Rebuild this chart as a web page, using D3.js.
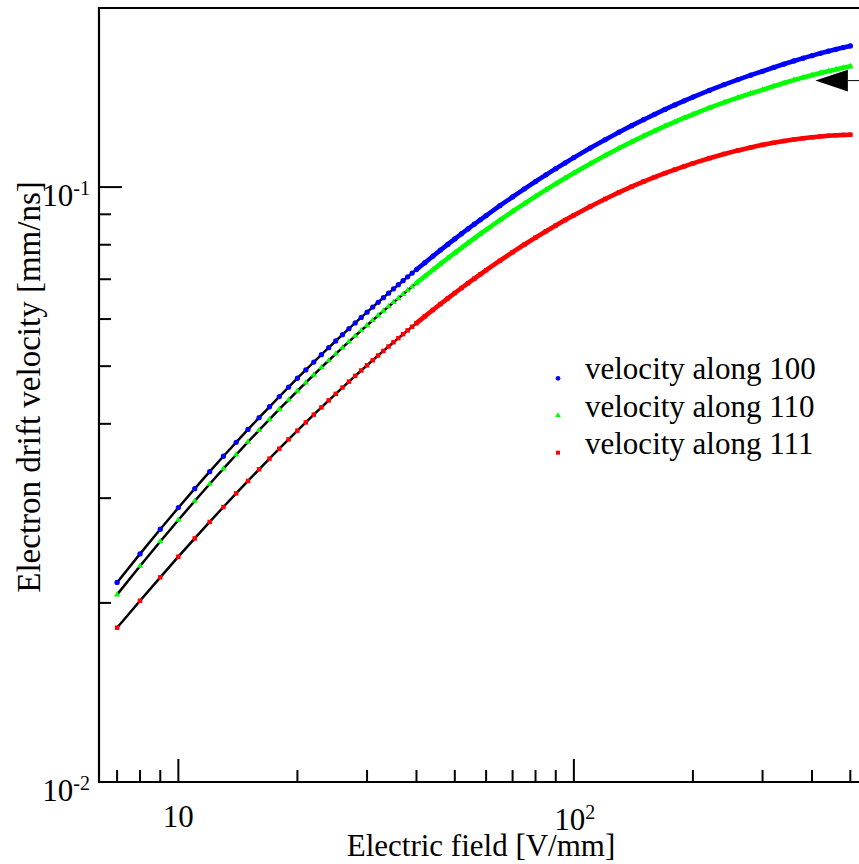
<!DOCTYPE html>
<html>
<head>
<meta charset="utf-8">
<script src="https://cdn.jsdelivr.net/npm/d3@7"></script>
<style>
  html, body { margin: 0; padding: 0; background: #fff; }
  svg { display: block; font-family: "Liberation Serif", "Times New Roman", serif; }
</style>
</head>
<body>
<svg id="chart" width="859" height="864"></svg>
<script>
// Electric field values (V/mm) at which the drift velocity was computed
const field = [7, 8, 9, 10, 11, 12, 13, 14, 15, 16, 17, 18, 19, 20, 21, 22, 23, 24, 25, 26, 27, 28, 29, 30,
  31, 32, 33, 34, 35, 36, 37, 38, 39, 40, 42, 44, 46, 48, 50, 52, 54, 56, 58, 60,
  65, 70, 75, 80, 85, 90, 95, 100, 110, 120, 130, 140, 150, 160, 170, 180, 190, 200,
  220, 240, 260, 280, 300, 320, 340, 360, 380, 400, 420, 440, 460, 480, 500];

// Electron drift velocity (mm/ns) along the <100> direction
const v100 = [0.02165, 0.02418, 0.02660, 0.02891, 0.03112, 0.03324, 0.03528, 0.03724, 0.03914, 0.04096,
  0.04273, 0.04445, 0.04610, 0.04772, 0.04928, 0.05080, 0.05228, 0.05372, 0.05512, 0.05649,
  0.05782, 0.05912, 0.06039, 0.06163, 0.06285, 0.06403, 0.06519, 0.06633, 0.06744, 0.06853,
  0.06960, 0.07065, 0.07168, 0.07268, 0.07464, 0.07653, 0.07835, 0.08011, 0.08182, 0.08347,
  0.08506, 0.08661, 0.08811, 0.08957, 0.09304, 0.09628, 0.09932, 0.10217, 0.10486, 0.10739,
  0.10980, 0.11208, 0.11631, 0.12014, 0.12364, 0.12685, 0.12980, 0.13253, 0.13507, 0.13742,
  0.13962, 0.14167, 0.14539, 0.14868, 0.15160, 0.15420, 0.15654, 0.15888, 0.16101, 0.16294,
  0.16471, 0.16633, 0.16782, 0.16919, 0.17045, 0.17162, 0.17270];

// Electron drift velocity (mm/ns) along the <110> direction
const v110 = [0.02065, 0.02307, 0.02537, 0.02757, 0.02967, 0.03169, 0.03363, 0.03549, 0.03729, 0.03903,
  0.04071, 0.04233, 0.04390, 0.04543, 0.04691, 0.04835, 0.04975, 0.05111, 0.05243, 0.05372,
  0.05498, 0.05621, 0.05741, 0.05857, 0.05972, 0.06084, 0.06193, 0.06300, 0.06404, 0.06507,
  0.06607, 0.06706, 0.06802, 0.06897, 0.07080, 0.07257, 0.07428, 0.07593, 0.07752, 0.07906,
  0.08055, 0.08200, 0.08340, 0.08476, 0.08799, 0.09100, 0.09382, 0.09646, 0.09894, 0.10129,
  0.10350, 0.10560, 0.10947, 0.11300, 0.11621, 0.11913, 0.12182, 0.12430, 0.12658, 0.12871,
  0.13068, 0.13253, 0.13586, 0.13878, 0.14136, 0.14366, 0.14571, 0.14773, 0.14960, 0.15127,
  0.15281, 0.15420, 0.15547, 0.15663, 0.15770, 0.15868, 0.15958];

// Electron drift velocity (mm/ns) along the <111> direction
const v111 = [0.01817, 0.02017, 0.02208, 0.02392, 0.02567, 0.02736, 0.02899, 0.03056, 0.03207, 0.03354,
  0.03496, 0.03633, 0.03767, 0.03896, 0.04022, 0.04145, 0.04263, 0.04380, 0.04492, 0.04603,
  0.04710, 0.04815, 0.04917, 0.05017, 0.05115, 0.05211, 0.05304, 0.05396, 0.05485, 0.05573,
  0.05659, 0.05743, 0.05825, 0.05906, 0.06063, 0.06214, 0.06360, 0.06500, 0.06636, 0.06767,
  0.06893, 0.07015, 0.07134, 0.07249, 0.07520, 0.07772, 0.08006, 0.08225, 0.08429, 0.08620,
  0.08800, 0.08968, 0.09276, 0.09550, 0.09795, 0.10015, 0.10213, 0.10391, 0.10553, 0.10701,
  0.10837, 0.10961, 0.11181, 0.11368, 0.11526, 0.11660, 0.11775, 0.11871, 0.11953, 0.12021,
  0.12079, 0.12126, 0.12165, 0.12196, 0.12219, 0.12237, 0.12248];

const seriesNames = ["velocity along 100", "velocity along 110", "velocity along 111"];
const seriesColors = ["#0000ff", "#00ff00", "#ff0000"];
const seriesSymbols = ["circle", "triangle", "square"];

// Axis ticks and their labels (base, exponent)
const xMajorTicks = [10, 100];
const xTickLabels = [["10", ""], ["10", "2"]];
const xMinorTicks = [7, 8, 9, 20, 30, 40, 50, 60, 70, 80, 90, 200, 300, 400, 500, 600, 700, 800, 900];
const yMajorTicks = [0.01, 0.1];
const yTickLabels = [["10", "-2"], ["10", "-1"]];
const yMinorTicks = [0.02, 0.03, 0.04, 0.05, 0.06, 0.07, 0.08, 0.09];

const xTitle = "Electric field [V/mm]";
const yTitle = "Electron drift velocity [mm/ns]";

// Above this field the samples sit closer together than a marker is wide
const denseFrom = 40;

// Pointer arrow in the upper right corner (tip position in data units)
const arrowTip = { field: 408, velocity: 0.151 };
const arrowTail = { field: 1000, velocity: 0.151 };

// ---------------------------------------------------------------------------
const W = 859, H = 864;
const plotLeft = 99, plotTop = 8, plotBottom = 782;
const decade = 395.5;

const svg = d3.select("#chart");
svg.append("rect").attr("width", W).attr("height", H).attr("fill", "#fff");

const x = d3.scaleLog().domain([6.3, 1000])
  .range([plotLeft, plotLeft + decade * Math.log10(1000 / 6.3)]);
const y = d3.scaleLog().domain([0.01, 0.2]).range([plotBottom, plotTop]);

svg.append("defs").append("clipPath").attr("id", "plotClip")
  .append("rect").attr("x", plotLeft).attr("y", plotTop)
  .attr("width", W - plotLeft + 20).attr("height", plotBottom - plotTop);

const plot = svg.append("g").attr("clip-path", "url(#plotClip)");

const symbolType = { circle: d3.symbolCircle, triangle: d3.symbolTriangle, square: d3.symbolSquare };
const symbolSize = { circle: 22, triangle: 17, square: 20 };

const series = [v100, v110, v111].map((vals, i) => ({
  name: seriesNames[i],
  color: seriesColors[i],
  symbol: seriesSymbols[i],
  points: field.map((f, j) => ({ f: f, v: vals[j] }))
}));

const line = d3.line().x(d => x(d.f)).y(d => y(d.v));

series.forEach(s => {
  const g = plot.append("g");
  // connecting line
  g.append("path").attr("d", line(s.points))
    .attr("fill", "none").attr("stroke", "#000").attr("stroke-width", 2.5)
    .attr("stroke-linejoin", "round");
  // densely packed markers merge into a solid band
  g.append("path").attr("d", line(s.points.filter(p => p.f >= denseFrom)))
    .attr("fill", "none").attr("stroke", s.color).attr("stroke-width", 4.6)
    .attr("stroke-linecap", "round").attr("stroke-linejoin", "round");
  // markers
  const sym = d3.symbol().type(symbolType[s.symbol]).size(symbolSize[s.symbol]);
  g.selectAll("path.pt").data(s.points).enter().append("path")
    .attr("class", "pt")
    .attr("d", sym)
    .attr("transform", d => `translate(${x(d.f)},${y(d.v)})`)
    .attr("fill", s.color);
});

// Frame: left, top and bottom edges
const frame = svg.append("g").attr("stroke", "#000").attr("stroke-width", 2.2).attr("fill", "none");
frame.append("line").attr("x1", plotLeft).attr("x2", plotLeft).attr("y1", plotTop - 1.1).attr("y2", plotBottom + 1.1);
frame.append("line").attr("x1", plotLeft).attr("x2", W + 5).attr("y1", plotTop).attr("y2", plotTop);
frame.append("line").attr("x1", plotLeft).attr("x2", W + 5).attr("y1", plotBottom).attr("y2", plotBottom);

// Ticks (drawn inward)
const ticks = svg.append("g").attr("stroke", "#000").attr("stroke-width", 2);
const majorLen = 23, minorLen = 12;
xMajorTicks.forEach(t => ticks.append("line")
  .attr("x1", x(t)).attr("x2", x(t)).attr("y1", plotBottom).attr("y2", plotBottom - majorLen));
xMinorTicks.forEach(t => ticks.append("line")
  .attr("x1", x(t)).attr("x2", x(t)).attr("y1", plotBottom).attr("y2", plotBottom - minorLen));
yMajorTicks.forEach(t => ticks.append("line")
  .attr("x1", plotLeft).attr("x2", plotLeft + majorLen).attr("y1", y(t)).attr("y2", y(t)));
yMinorTicks.forEach(t => ticks.append("line")
  .attr("x1", plotLeft).attr("x2", plotLeft + minorLen).attr("y1", y(t)).attr("y2", y(t)));

// Tick labels with superscript exponents
function powerLabel(sel, base, exp) {
  sel.append("tspan").text(base);
  if (exp) sel.append("tspan").attr("font-size", 20).attr("dy", -11).text(exp);
}
xMajorTicks.forEach((t, i) => {
  const [b, e] = xTickLabels[i];
  const txt = svg.append("text").attr("x", x(t) + (e ? 1 : 0)).attr("y", plotBottom + (e ? 48 : 45))
    .attr("text-anchor", "middle").attr("font-size", 31).attr("fill", "#000");
  powerLabel(txt, b, e);
});
yMajorTicks.forEach((t, i) => {
  const [b, e] = yTickLabels[i];
  const txt = svg.append("text").attr("x", plotLeft - 9).attr("y", y(t) + 19)
    .attr("text-anchor", "end").attr("font-size", 31).attr("fill", "#000");
  powerLabel(txt, b, e);
});

// Axis titles
svg.append("text").attr("x", 481).attr("y", 856).attr("text-anchor", "middle")
  .attr("font-size", 31).attr("fill", "#000").text(xTitle);
svg.append("text").attr("transform", "translate(40,387) rotate(-90)").attr("text-anchor", "middle")
  .attr("font-size", 33).attr("fill", "#000").text(yTitle);

// Legend
const legendX = 558, legendY = 378.3, legendStep = 37.2;
series.forEach((s, i) => {
  const ly = legendY + i * legendStep;
  svg.append("path")
    .attr("d", d3.symbol().type(symbolType[s.symbol]).size(symbolSize[s.symbol] * 0.8)())
    .attr("transform", `translate(${legendX},${ly})`).attr("fill", s.color);
  svg.append("text").attr("x", legendX + 27).attr("y", ly + 1)
    .attr("font-size", 31).attr("fill", "#000").text(s.name);
});

// Pointer arrow
const tipX = x(arrowTip.field), tipY = y(arrowTip.velocity);
const tailX = x(arrowTail.field);
const headLen = 32.5, headHalf = 10.8;
svg.append("line").attr("x1", tipX + headLen).attr("x2", tailX).attr("y1", tipY).attr("y2", tipY)
  .attr("stroke", "#000").attr("stroke-width", 1);
svg.append("path")
  .attr("d", d3.line()([[tipX, tipY], [tipX + headLen, tipY - headHalf], [tipX + headLen, tipY + headHalf]]) + "Z")
  .attr("fill", "#000");
</script>
</body>
</html>
